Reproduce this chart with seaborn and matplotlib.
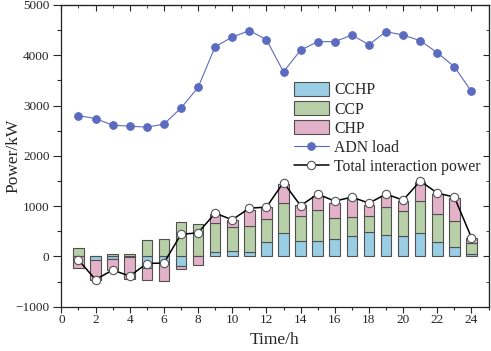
import matplotlib
matplotlib.use("Agg")
import matplotlib.pyplot as plt
import numpy as np
import pandas as pd
import seaborn as sns
from matplotlib.ticker import MultipleLocator

hours = np.arange(1, 25)
cchp = [0, -65, -60, -20, -230, -110, -195, 0, 90, 110, 85, 280,
        465, 300, 300, 350, 400, 480, 420, 400, 465, 280, 190, 45]
ccp = [160, 0, 50, 40, 330, 345, 680, 650, 575, 470, 515, 470,
       600, 500, 630, 415, 380, 320, 560, 510, 645, 565, 510, 225]
chp = [-230, -395, -210, -420, -245, -370, -45, -175, 180, 135, 330, 225,
       385, 220, 270, 300, 365, 225, 230, 200, 370, 400, 465, 100]
adn_load = [2800, 2740, 2610, 2590, 2570, 2630, 2950, 3360, 4170, 4360, 4490, 4310,
            3670, 4100, 4270, 4270, 4400, 4210, 4470, 4400, 4290, 4050, 3770, 3280]
total = [-70, -460, -270, -390, -140, -130, 440, 470, 860, 730, 960, 980,
         1470, 1010, 1240, 1100, 1180, 1060, 1240, 1120, 1500, 1260, 1180, 375]

series_names = ["CCHP", "CCP", "CHP"]
colors = ["#8dd3f1", "#b6d7a0", "#eca8c8"]

df = pd.DataFrame({"hour": hours, "CCHP": cchp, "CCP": ccp, "CHP": chp,
                   "adn": adn_load, "total": total})

sns.set_style("ticks")
plt.rcParams["font.family"] = ["Liberation Serif", "DejaVu Serif"]

fig = plt.figure(figsize=(4.91, 3.51), dpi=100)
ax = fig.add_axes([0.125, 0.126, 0.87, 0.86])

# stacked bars, positive parts go up from 0 and negative parts go down
pos_base = np.zeros(len(hours))
neg_base = np.zeros(len(hours))
for name, col in zip(series_names, colors):
    vals = df[name].to_numpy(dtype=float)
    bottom = np.where(vals >= 0, pos_base, neg_base)
    sns.barplot(x=df["hour"], y=vals, native_scale=True, width=0.62,
                bottom=bottom, color=col, edgecolor="#505050", linewidth=0.8,
                errorbar=None, label=name, ax=ax, zorder=2)
    pos_base = pos_base + np.clip(vals, 0, None)
    neg_base = neg_base + np.clip(vals, None, 0)

sns.lineplot(data=df, x="hour", y="adn", color="#5b6bc0", linewidth=0.8,
             marker="o", markersize=5.5, markeredgecolor="#5b6bc0",
             label="ADN load", ax=ax, zorder=3)
sns.lineplot(data=df, x="hour", y="total", color="black", linewidth=1.1,
             marker="o", markersize=6, markerfacecolor="white",
             markeredgecolor="#555555", markeredgewidth=0.8,
             label="Total interaction power", ax=ax, zorder=4)

ax.set_xlim(0, 25)
ax.set_ylim(-1000, 5000)
ax.set_xticks(np.arange(0, 25, 2))
ax.xaxis.set_minor_locator(MultipleLocator(1))
ax.yaxis.set_major_locator(MultipleLocator(1000))
ax.yaxis.set_minor_locator(MultipleLocator(500))
ax.tick_params(axis="x", which="major", direction="out", length=4, width=0.8,
               pad=1, labelsize=9.5)
ax.tick_params(axis="x", which="minor", direction="out", length=2.5, width=0.8)
ax.tick_params(axis="y", which="major", direction="out", length=5.5, width=0.8,
               pad=3, labelsize=9.5)
ax.tick_params(axis="y", which="minor", direction="out", length=3, width=0.8)
for s in ax.spines.values():
    s.set_linewidth(0.9)
    s.set_color("#222222")

top = ax.secondary_xaxis("top")
top.xaxis.set_major_locator(MultipleLocator(2))
top.xaxis.set_minor_locator(MultipleLocator(1))
top.tick_params(which="major", direction="in", length=4, labeltop=False)
top.tick_params(which="minor", direction="in", length=2.5)
right = ax.secondary_yaxis("right")
right.yaxis.set_major_locator(MultipleLocator(1000))
right.yaxis.set_minor_locator(MultipleLocator(500))
right.tick_params(which="major", direction="in", length=4, labelright=False)
right.tick_params(which="minor", direction="in", length=2.5)

ax.set_xlabel("Time/h", fontsize=12.5, va="top")
ax.xaxis.set_label_coords(0.5, -0.083)
ax.set_ylabel("Power/kW", fontsize=12.5)
ax.yaxis.set_label_coords(-0.094, 0.5)

handles, labels = ax.get_legend_handles_labels()
order = ["CCHP", "CCP", "CHP", "ADN load", "Total interaction power"]
hmap = dict(zip(labels, handles))
ax.legend([hmap[k] for k in order], order, loc="upper left",
          bbox_to_anchor=(0.545, 0.745), frameon=False, fontsize=11.3,
          handlelength=2.2, handleheight=1.0, handletextpad=0.35,
          labelspacing=0.18, borderpad=0, borderaxespad=0)

fig.savefig("out.png", dpi=100)
